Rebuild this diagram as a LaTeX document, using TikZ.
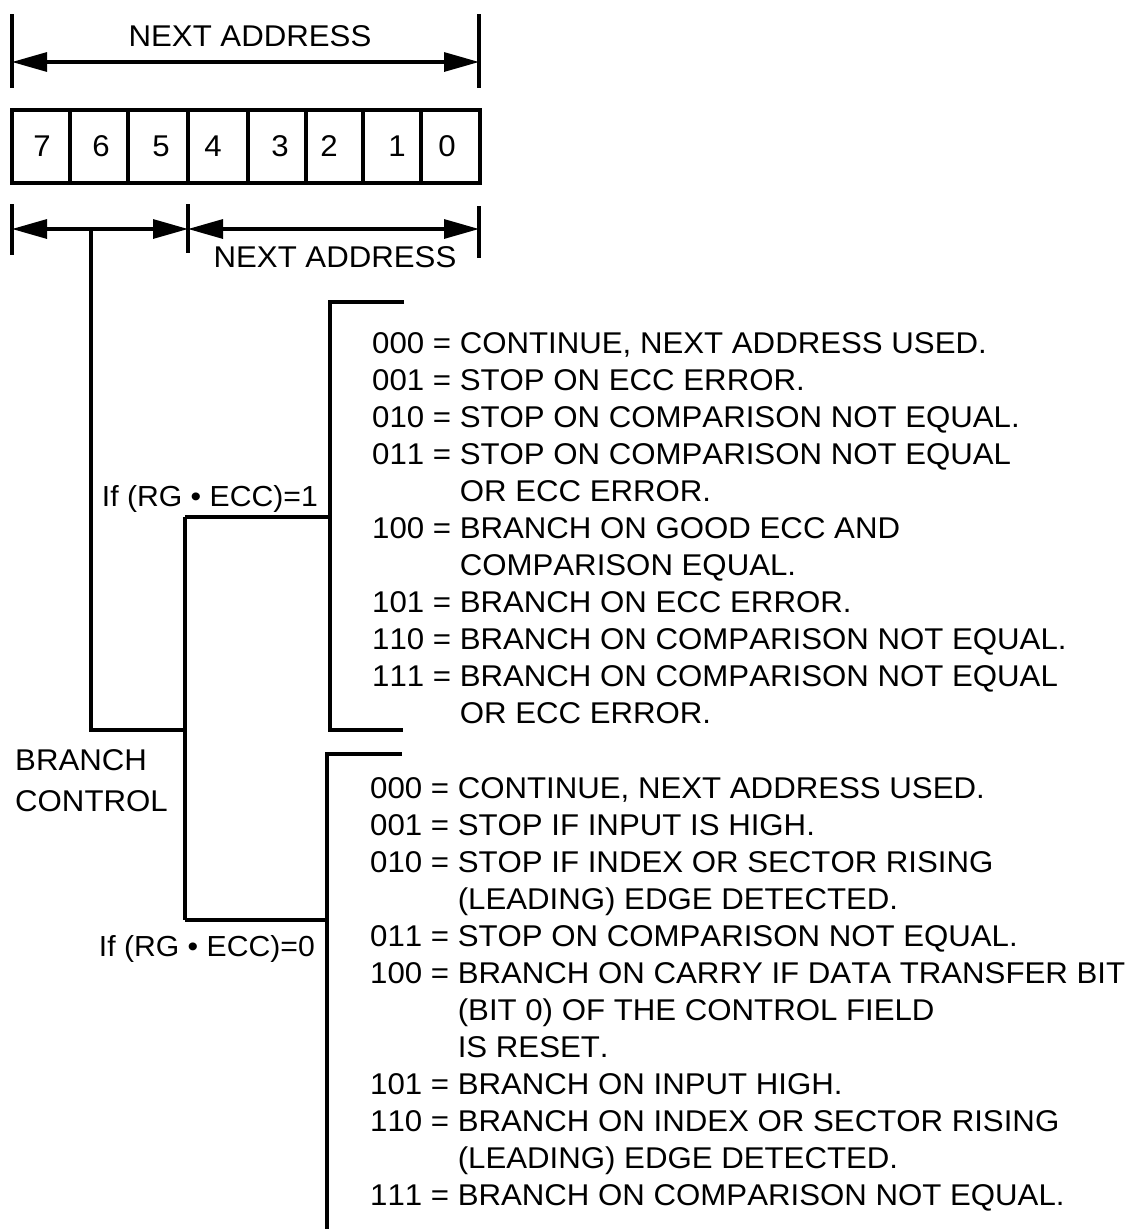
\documentclass[tikz,border=0pt]{standalone}
\usepackage{fontspec}
\setmainfont{Liberation Sans}[FakeStretch=1.04, Kerning=Off]
\usetikzlibrary{arrows.meta}
\tikzset{
    normal/.style={draw, line width=3.2pt},
    dim/.style={style=normal, {Triangle[length=35pt, width=19pt]}-{Triangle[length=35pt, width=19pt]}}, % dimension arrows
    txt/.style={inner sep=0pt, font=\fontsize{30}{37}\selectfont},
    cond/.style={style=txt, anchor=base east, font=\fontsize{29}{37}\selectfont}, % branch conditions
    bit/.style={style=txt, anchor=base}, % bit numbers in the register
    codes/.style={style=txt, anchor=base west} % code tables
}

\begin{document}
\begin{tikzpicture}[x=1pt, y=-1pt]
  \useasboundingbox (0,0) rectangle (1128,1229);

  % whole next address field
  \coordinate (fl) at (12,62);
  \coordinate (fr) at (479,62);
  \draw[normal] (12,14) -- (12,88);
  \draw[normal] (479,14) -- (479,88);
  \draw[dim] (fl) -- (fr);
  \node[txt, anchor=base] (nexttop) at (250,46) {NEXT ADDRESS};

  % register
  \draw[normal] (12,110) rectangle (480,183);
  \foreach \x in {70,128,188,248,306,363,421}
    \draw[normal] (\x,110) -- (\x,183);
  \foreach \b/\x in {7/42, 6/101, 5/161, 4/213, 3/280, 2/329, 1/397, 0/447}
    \node[bit] (bit\b) at (\x,156) {\b};

  % split fields
  \coordinate (sl) at (12,229);
  \coordinate (sm) at (188,229);
  \coordinate (sr) at (479,229);
  \draw[normal] (12,204) -- (12,255);
  \draw[normal] (188,204) -- (188,253);
  \draw[normal] (479,206) -- (479,258);
  \draw[dim] (sl) -- (sm);
  \draw[dim] (sm) -- (sr);
  \node[txt, anchor=base] (nextlow) at (335,267) {NEXT ADDRESS};

  % branch control lines
  \coordinate (bc) at (91,229);
  \coordinate (jn) at (185,730);
  \coordinate (j1) at (185,517);
  \coordinate (j0) at (185,920);
  \coordinate (up) at (330,517);
  \coordinate (lo) at (327,920);
  \draw[normal] (bc) |- (jn);
  \draw[normal] (j1) -- (j0);
  \draw[normal] (j1) -- (up);
  \draw[normal] (j0) -- (lo);

  \node[cond] (ifone) at (318,506) {If (RG • ECC)=1};
  \node[cond] (ifzero) at (315,956) {If (RG • ECC)=0};
  \node[txt, anchor=base west, align=left, font=\fontsize{30}{41}\selectfont] (branch) at (15,811) {BRANCH\\CONTROL};

  % brackets
  \draw[normal] (404,302) -| (330,730) -- (403,730);
  \draw[normal] (402,754) -| (327,1229);

  \node[codes] (setone) at (372,353) {\begin{tabular}[t]{@{}l@{}l@{}}
    000~=~ & CONTINUE, NEXT ADDRESS USED.\\
    001~=~ & STOP ON ECC ERROR.\\
    010~=~ & STOP ON COMPARISON NOT EQUAL.\\
    011~=~ & STOP ON COMPARISON NOT EQUAL\\
           & OR ECC ERROR.\\
    100~=~ & BRANCH ON GOOD ECC AND\\
           & COMPARISON EQUAL.\\
    101~=~ & BRANCH ON ECC ERROR.\\
    110~=~ & BRANCH ON COMPARISON NOT EQUAL.\\
    111~=~ & BRANCH ON COMPARISON NOT EQUAL\\
           & OR ECC ERROR.
  \end{tabular}};

  \node[codes] (setzero) at (370,798) {\begin{tabular}[t]{@{}l@{}l@{}}
    000~=~ & CONTINUE, NEXT ADDRESS USED.\\
    001~=~ & STOP IF INPUT IS HIGH.\\
    010~=~ & STOP IF INDEX OR SECTOR RISING\\
           & (LEADING) EDGE DETECTED.\\
    011~=~ & STOP ON COMPARISON NOT EQUAL.\\
    100~=~ & BRANCH ON CARRY IF DATA TRANSFER BIT\\
           & (BIT 0) OF THE CONTROL FIELD\\
           & IS RESET.\\
    101~=~ & BRANCH ON INPUT HIGH.\\
    110~=~ & BRANCH ON INDEX OR SECTOR RISING\\
           & (LEADING) EDGE DETECTED.\\
    111~=~ & BRANCH ON COMPARISON NOT EQUAL.
  \end{tabular}};
\end{tikzpicture}
\end{document}
